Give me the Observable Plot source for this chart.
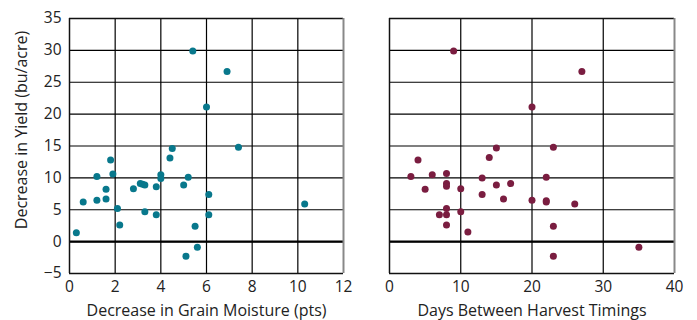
<!DOCTYPE html>
<html>
<head>
<meta charset="utf-8">
<script src="https://cdn.jsdelivr.net/npm/d3@7"></script>
<script src="https://cdn.jsdelivr.net/npm/@observablehq/plot@0.6"></script>
<style>
  html, body { margin: 0; padding: 0; background: #fff; }
  #wrap { display: flex; flex-direction: row; width: 697px; height: 320px; }
</style>
</head>
<body>
<div id="wrap"></div>
<script>
// Left panel: decrease in grain moisture (pts) vs decrease in yield (bu/acre)
const moisturePts = [0.3, 0.6, 1.2, 1.2, 1.6, 1.6, 1.8, 1.9, 2.1, 2.2, 2.8, 3.1, 3.2, 3.3, 3.3, 3.8, 3.8, 4.0, 4.0, 4.4, 4.5, 5.0, 5.2, 5.1, 5.4, 5.5, 5.6, 6.0, 6.1, 6.1, 6.9, 7.4, 10.3];
const moistureYield = [1.4, 6.2, 10.2, 6.5, 8.2, 6.7, 12.8, 10.6, 5.2, 2.6, 8.3, 9.1, 9.0, 8.9, 4.7, 8.6, 4.2, 10.5, 9.9, 13.1, 14.6, 8.9, 10.1, -2.3, 29.9, 2.4, -0.9, 21.1, 7.4, 4.2, 26.7, 14.8, 5.9];

// Right panel: days between harvest timings vs decrease in yield (bu/acre)
const harvestDays = [9, 27, 20, 15, 23, 4, 14, 3, 6, 8, 13, 22, 8, 8, 15, 17, 5, 10, 13, 16, 20, 22, 22, 26, 8, 10, 7, 8, 8, 23, 11, 35, 23];
const daysYield = [29.9, 26.7, 21.1, 14.7, 14.8, 12.8, 13.2, 10.2, 10.5, 10.7, 10.0, 10.1, 9.1, 8.7, 8.9, 9.1, 8.2, 8.3, 7.4, 6.7, 6.5, 6.4, 6.2, 5.9, 5.2, 4.7, 4.2, 4.2, 2.6, 2.4, 1.5, -0.9, -2.3];

const moistureTicks = [0, 2, 4, 6, 8, 10, 12];
const daysTicks = [0, 10, 20, 30, 40];
const yieldTicks = [-5, 0, 5, 10, 15, 20, 25, 30, 35];

const xLabelLeft = "Decrease in Grain Moisture (pts)";
const xLabelRight = "Days Between Harvest Timings";
const yLabel = "Decrease in Yield (bu/acre)";

const teal = "#08788c";
const maroon = "#7a1d40";
const fontFamily = "'Open Sans', 'DejaVu Sans', sans-serif";

const leftData = moisturePts.map((x, i) => ({x, y: moistureYield[i]}));
const rightData = harvestDays.map((x, i) => ({x, y: daysYield[i]}));

function panel({data, xTicks, xDomain, color, xLabel, width, marginLeft, marginRight, showY}) {
  const marks = [
    Plot.gridX(xTicks.slice(1, -1), {stroke: "#000", strokeOpacity: 1, strokeWidth: 1.2}),
    Plot.gridY(yieldTicks.slice(1, -1), {stroke: "#000", strokeOpacity: 1, strokeWidth: 1.2}),
    Plot.ruleY([0], {stroke: "#000", strokeWidth: 2.4}),
    Plot.ruleY([yieldTicks[0], yieldTicks[yieldTicks.length - 1]], {stroke: "#111", strokeWidth: 1.3}),
    Plot.ruleX([xDomain[0]], {stroke: "#111", strokeWidth: 1.5}),
    Plot.ruleX([xDomain[1]], {stroke: "#888", strokeWidth: 2}),
    Plot.axisX({ticks: xTicks, tickSize: 0, tickPadding: 7, label: null, fontSize: 15.5}),
    Plot.text([xLabel], {frameAnchor: "bottom", textAnchor: "middle", dy: 37, lineAnchor: "middle", fontSize: 16, fill: "#222"}),
    Plot.dot(data, {x: "x", y: "y", r: 3.5, fill: color, stroke: "none"})
  ];
  if (showY) {
    marks.push(Plot.axisY({ticks: yieldTicks, tickSize: 0, tickPadding: 8, label: null, fontSize: 15.5}));
    marks.push(Plot.text([yLabel], {frameAnchor: "left", textAnchor: "middle", rotate: -90, dx: -48, dy: -16, lineAnchor: "middle", fontSize: 16, fill: "#222"}));
  } else {
    marks.push(Plot.axisY({ticks: [], label: null}));
  }
  return Plot.plot({
    width, height: 320,
    marginLeft, marginRight, marginTop: 18, marginBottom: 47,
    style: {fontFamily, fontSize: "15.5px", color: "#222", background: "#fff", overflow: "visible"},
    x: {domain: xDomain},
    y: {domain: [yieldTicks[0], yieldTicks[yieldTicks.length - 1]]},
    marks
  });
}

const wrap = document.getElementById("wrap");
wrap.appendChild(panel({data: leftData, xTicks: moistureTicks, xDomain: [0, 12], color: teal, xLabel: xLabelLeft, width: 360, marginLeft: 69, marginRight: 17, showY: true}));
wrap.appendChild(panel({data: rightData, xTicks: daysTicks, xDomain: [0, 40], color: maroon, xLabel: xLabelRight, width: 337, marginLeft: 29, marginRight: 23, showY: false}));
</script>
</body>
</html>
